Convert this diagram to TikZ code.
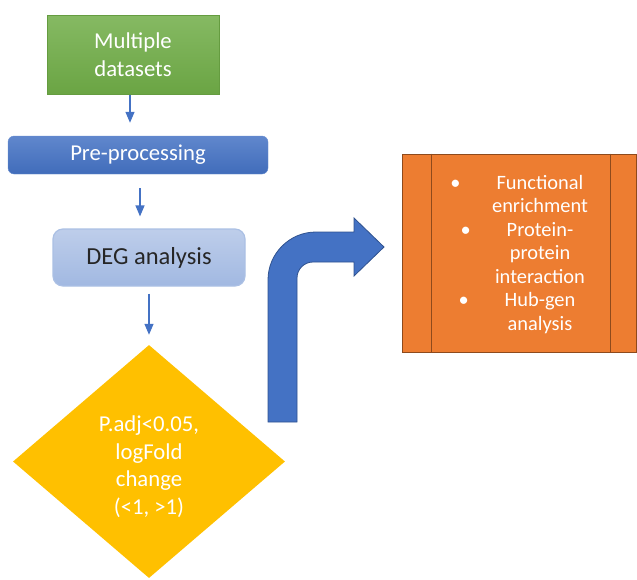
\documentclass[tikz,border=0pt]{standalone}
\usepackage{fontspec}
\setmainfont{Carlito}
\usetikzlibrary{shapes.geometric, arrows.meta, calc, positioning}

\definecolor{stepblue}{HTML}{4472C4}
\definecolor{stepblueline}{HTML}{2F528F}
\definecolor{setgreen}{HTML}{70AD47}
\definecolor{filteryellow}{HTML}{FFC000}
\definecolor{resorange}{HTML}{ED7D31}
\definecolor{resline}{HTML}{8E4A1C}

\tikzset{
  bigtext/.style={font=\fontsize{22.7}{27.7}\selectfont, align=center},
  setbox/.style={bigtext, text=white, draw=setgreen!90!black, top color=setgreen!85!white, bottom color=setgreen!95!black, inner sep=0pt},
  prebox/.style={bigtext, text=white, draw=stepblue!80!white, rounded corners=6pt, top color=stepblue!85!white, bottom color=stepblue!95!black, inner sep=0pt},
  degbox/.style={bigtext, font=\fontsize{24.5}{29}\selectfont, text=black!85, draw=stepblue!45!white, line width=1.2pt, rounded corners=10pt, top color=stepblue!35!white, bottom color=stepblue!50!white, inner sep=0pt},
  filterbox/.style={bigtext, text=white, diamond, fill=filteryellow, inner sep=2pt, text height=112pt, text depth=6pt},
  resbox/.style={draw=resline, fill=resorange, line width=0.8pt, inner sep=0pt},
  restext/.style={font=\fontsize{20.4}{23.5}\selectfont, text=white, align=center},
  flow/.style={draw=stepblue, line width=1.3pt, -{Triangle[width=9pt,length=11pt]}},
  bigarrow/.style={fill=stepblue, draw=stepblueline, line width=0.8pt}
}

\begin{document}
\begin{tikzpicture}[x=1pt,y=1pt]
\useasboundingbox (0,0) rectangle (637,-579);

\node[setbox, minimum width=172, minimum height=79] (data) at (133,-55) {Multiple\\datasets};
\node[prebox, minimum width=260, minimum height=38] (pre) at (138,-155) {Pre-processing};
\node[degbox, minimum width=192, minimum height=57] (deg) at (149,-257.5) {DEG analysis};
\node[filterbox, minimum width=272, minimum height=233] (filter) at (149,-461.5) {P.adj<0.05,\\logFold\\change\\(<1, >1)};

% small arrows
\draw[flow, shorten >=13pt] ([xshift=-3pt]data.south) -- ([xshift=-3pt]data.south |- pre.north);
\draw[flow, shorten <=14pt, shorten >=12pt] ([xshift=2pt]pre.south) -- ([xshift=2pt]pre.south |- deg.north);
\draw[flow, shorten <=7pt, shorten >=10pt] (deg.south) -- (filter.north);

% bent arrow
\draw[bigarrow] (268,-422) -- (268,-280) arc[start angle=180, end angle=90, radius=48]
  -- (354,-232) -- (354,-218) -- (384,-247) -- (354,-276) -- (354,-262) -- (313,-262)
  arc[start angle=90, end angle=180, radius=16] -- (297,-422) -- cycle;

% result box
\node[resbox, minimum width=234, minimum height=198] (res) at (519,-253) {};
\draw[resline, line width=0.8pt] ([xshift=30pt]res.north west) -- ([xshift=30pt]res.south west);
\draw[resline, line width=0.8pt] ([xshift=-26pt]res.north east) -- ([xshift=-26pt]res.south east);
\node[restext] (reslist) at ([xshift=21pt,yshift=-1.5pt]res.center)
  {\llap{\textbullet\hspace{36pt}}Functional\\enrichment\\
   \llap{\textbullet\hspace{36pt}}Protein-\\protein\\interaction\\
   \llap{\textbullet\hspace{36pt}}Hub-gen\\analysis};
\end{tikzpicture}
\end{document}
